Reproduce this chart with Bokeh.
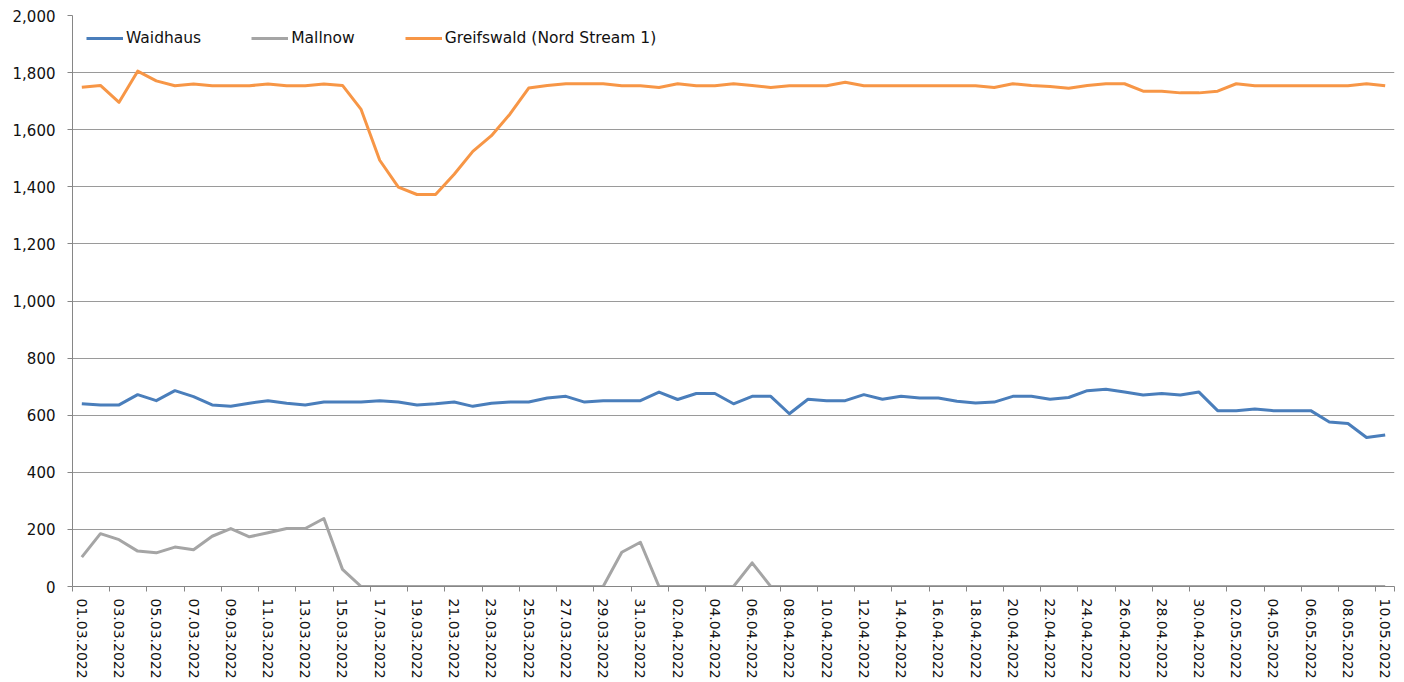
import math
import pandas as pd
from bokeh.plotting import figure
from bokeh.models import FixedTicker, NumeralTickFormatter, Legend, LegendItem
from bokeh.embed import file_html
from bokeh.resources import INLINE

dates = [d.strftime("%d.%m.%Y") for d in pd.date_range("2022-03-01", "2022-05-10", freq="D")]

waidhaus = [640, 636, 636, 672, 651, 686, 665, 636, 631, 642, 651, 642, 636, 646, 646, 646,
            651, 646, 636, 640, 646, 631, 642, 646, 646, 660, 666, 646, 651, 651, 651, 681,
            655, 676, 676, 640, 666, 666, 605, 656, 651, 651, 672, 656, 666, 660, 660, 649,
            643, 646, 666, 666, 656, 662, 686, 691, 681, 671, 676, 671, 681, 616, 616, 622,
            616, 616, 616, 576, 571, 522, 531]

mallnow = [103, 185, 164, 124, 118, 138, 129, 176, 203, 174, 188, 203, 203, 238, 60, 0,
           0, 0, 0, 0, 0, 0, 0, 0, 0, 0, 0, 0, 0, 120, 155, 0,
           0, 0, 0, 0, 83, 0, 0, 0, 0, 0, 0, 0, 0, 0, 0, 0,
           0, 0, 0, 0, 0, 0, 0, 0, 0, 0, 0, 0, 0, 0, 0, 0,
           0, 0, 0, 0, 0, 0, 0]

greifswald = [1749, 1755, 1696, 1805, 1771, 1754, 1760, 1754, 1754, 1754, 1760, 1754, 1754, 1760, 1755, 1671,
              1493, 1399, 1373, 1373, 1444, 1524, 1579, 1655, 1746, 1755, 1761, 1761, 1761, 1754, 1754, 1748,
              1761, 1754, 1754, 1761, 1755, 1748, 1754, 1754, 1754, 1766, 1754, 1754, 1754, 1754, 1754, 1754,
              1754, 1748, 1761, 1755, 1751, 1745, 1755, 1761, 1761, 1735, 1735, 1729, 1729, 1735, 1761, 1754,
              1754, 1754, 1754, 1754, 1754, 1761, 1754]

series_names = ["Waidhaus", "Mallnow", "Greifswald (Nord Stream 1)"]
series_colors = ["#4a7ebb", "#a5a5a5", "#f79646"]
y_ticks = list(range(0, 2001, 200))

x = list(range(len(dates)))

p = figure(width=1404, height=682, output_backend="svg", toolbar_location=None,
           x_range=(-0.5, len(dates) - 0.5), y_range=(0, 2000),
           min_border_left=72, min_border_right=10, min_border_top=15, min_border_bottom=96)
p.outline_line_color = None
p.background_fill_color = "white"

renderers = []
for vals, col in zip([waidhaus, mallnow, greifswald], series_colors):
    r = p.line(x, vals, line_color=col, line_width=3, line_join="round")
    renderers.append(r)

# x axis
major = list(range(0, len(dates), 2))
minor = [m - 0.5 for m in major] + [len(dates) - 0.5]
p.xaxis.ticker = FixedTicker(ticks=major, minor_ticks=minor)
p.xaxis.major_label_overrides = {i: dates[i] for i in major}
p.xaxis.major_label_orientation = -math.pi / 2
p.xaxis.major_tick_line_color = None
p.xaxis.major_tick_out = 0
p.xaxis.major_tick_in = 0
p.xaxis.minor_tick_out = 5
p.xaxis.minor_tick_in = 0
p.xaxis.minor_tick_line_color = "#868686"
p.xaxis.axis_line_color = "#868686"
p.xaxis.major_label_standoff = 7
p.xaxis.major_label_text_font = "DejaVu Sans"
p.xaxis.major_label_text_font_size = "14px"
p.xaxis.major_label_text_color = "#111111"
p.xgrid.grid_line_color = None

# y axis
p.yaxis.ticker = FixedTicker(ticks=y_ticks)
p.yaxis.formatter = NumeralTickFormatter(format="0,0")
p.yaxis.major_tick_out = 5
p.yaxis.major_tick_in = 0
p.yaxis.minor_tick_line_color = None
p.yaxis.major_tick_line_color = "#868686"
p.yaxis.axis_line_color = "#868686"
p.yaxis.major_label_standoff = 12
p.yaxis.major_label_text_font = "DejaVu Sans"
p.yaxis.major_label_text_font_size = "15px"
p.yaxis.major_label_text_color = "#111111"
p.ygrid.ticker = FixedTicker(ticks=y_ticks)
p.ygrid.grid_line_color = "#9a9a9a"
p.ygrid.grid_line_width = 1

legend = Legend(items=[LegendItem(label=n, renderers=[r]) for n, r in zip(series_names, renderers)],
                orientation="horizontal", location="top_left")
legend.margin = 14
legend.padding = 8
legend.spacing = 50
legend.glyph_width = 37
legend.glyph_height = 4
legend.label_height = 4
legend.label_standoff = 3
legend.label_text_font = "DejaVu Sans"
legend.label_text_font_size = "15.5px"
legend.label_text_color = "#111111"
legend.background_fill_alpha = 0
legend.border_line_color = None
p.add_layout(legend)

open("out.html", "w").write(file_html(p, INLINE))
